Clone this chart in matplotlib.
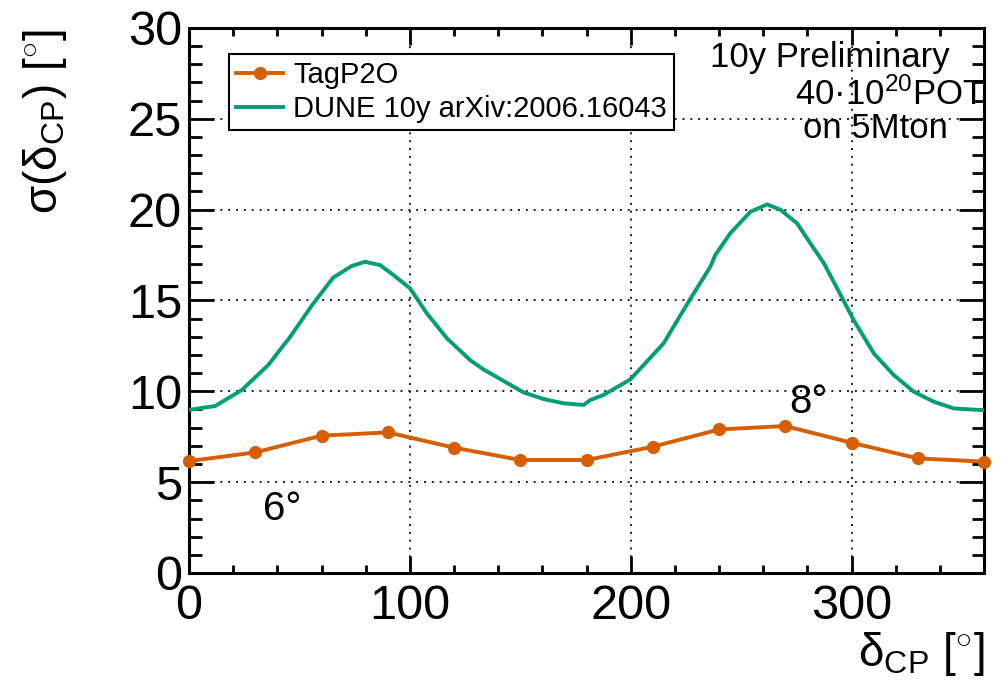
import matplotlib
matplotlib.use("Agg")
import matplotlib.pyplot as plt
from matplotlib.ticker import MultipleLocator

plt.rcParams['font.family'] = ['Liberation Sans', 'DejaVu Sans']
plt.rcParams['mathtext.fontset'] = 'custom'
plt.rcParams['mathtext.rm'] = 'Liberation Sans'
plt.rcParams['mathtext.it'] = 'Liberation Sans:italic'
plt.rcParams['mathtext.sf'] = 'Liberation Sans'

# TagP2O points
tag_x = [0, 30, 60, 90, 120, 150, 180, 210, 240, 270, 300, 330, 360]
tag_y = [6.16, 6.64, 7.56, 7.74, 6.9, 6.22, 6.22, 6.95, 7.9, 8.09, 7.17, 6.31, 6.13]

# DUNE curve
dune_x = [0, 1.2, 11.8, 23.9, 35.9, 45.8, 56.3, 65.4, 73.7, 79.7, 86.5, 92.6, 100.1,
          107.7, 116.8, 127.3, 133.3, 140.9, 151.5, 160.5, 169.6, 178.7, 181.7, 187.7,
          199.8, 214.9, 226.2, 236.1, 238.3, 245.1, 254.2, 261.8, 267.8, 275.4, 281.4,
          287.5, 293.5, 301.0, 310.1, 319.1, 328.2, 337.2, 346.3, 358.4, 360]
dune_y = [8.98, 9.0, 9.19, 10.07, 11.45, 13.0, 14.84, 16.27, 16.9, 17.13, 16.95, 16.4, 15.67,
          14.29, 12.92, 11.72, 11.21, 10.68, 9.94, 9.58, 9.34, 9.25, 9.52, 9.8,
          10.65, 12.64, 14.93, 16.86, 17.5, 18.7, 19.88, 20.29, 20.0, 19.24, 18.14,
          17.05, 15.67, 13.92, 12.09, 10.9, 9.98, 9.43, 9.06, 8.97, 8.97]

x_ticks = [0, 100, 200, 300]
y_ticks = [0, 5, 10, 15, 20, 25, 30]

ORANGE = '#D55E00'
GREEN = '#009E73'

W, H = 1006, 687
fig = plt.figure(figsize=(W / 100, H / 100), dpi=100)
L, R, T, B = 189, 984, 28, 573
ax = fig.add_axes([L / W, 1 - B / H, (R - L) / W, (B - T) / H])

ax.plot(tag_x, tag_y, color=ORANGE, lw=2.8, marker='o', ms=8.5, label='TagP2O',
        zorder=4, clip_on=False)
ax.plot(dune_x, dune_y, color=GREEN, lw=2.8, label='DUNE 10y arXiv:2006.16043', zorder=3)

ax.set_xlim(0, 360)
ax.set_ylim(0, 30)
ax.set_xticks(x_ticks)
ax.set_yticks(y_ticks)
ax.xaxis.set_minor_locator(MultipleLocator(20))
ax.yaxis.set_minor_locator(MultipleLocator(1))

ax.grid(True, which='major', color='black', linestyle=(0, (1.2, 3.5)), lw=1.2, zorder=1)

for s in ax.spines.values():
    s.set_linewidth(2.2)

ax.tick_params(axis='x', which='major', direction='in', length=12, width=2, labelsize=35,
               pad=8, top=True, bottom=True)
ax.tick_params(axis='x', which='minor', direction='in', length=6, width=2, top=True, bottom=True)
ax.tick_params(axis='y', which='major', direction='in', length=18, width=2, labelsize=35,
               pad=5, left=True, right=True)
ax.tick_params(axis='y', which='minor', direction='in', length=9, width=2, left=True, right=True)

# axis titles
fig.text(45 / W, 1 - 29 / H, 'σ(δ$_{\\rm CP}$) [$^{\\circ}$]', rotation=90,
         ha='center', va='top', fontsize=33)
fig.text(984 / W, 1 - 678 / H, 'δ$_{\\rm CP}$ [$^{\\circ}$]', ha='right', va='bottom',
         fontsize=33)

leg = ax.legend(loc='upper left', bbox_to_anchor=(229 / W, 1 - 54 / H),
                bbox_transform=fig.transFigure, borderaxespad=0, fontsize=21,
                frameon=True, fancybox=False, edgecolor='black', framealpha=1,
                handlelength=1.6, handletextpad=0.35, borderpad=0.25, labelspacing=0.2)
leg.get_frame().set_linewidth(1.5)
leg.set_zorder(10)

fig.text(950 / W, 1 - 67 / H, '10y Preliminary', ha='right', va='baseline', fontsize=25)
fig.text(985 / W, 1 - 105 / H, '40·10$^{20}$POT', ha='right', va='baseline', fontsize=25,
         zorder=20)
fig.text(948 / W, 1 - 138 / H, 'on 5Mton', ha='right', va='baseline', fontsize=25)

ax.text(33.5, 2.9, '6°', fontsize=29, ha='left', va='baseline')
ax.text(272, 8.8, '8°', fontsize=29, ha='left', va='baseline')

fig.savefig('out.png', dpi=100)
